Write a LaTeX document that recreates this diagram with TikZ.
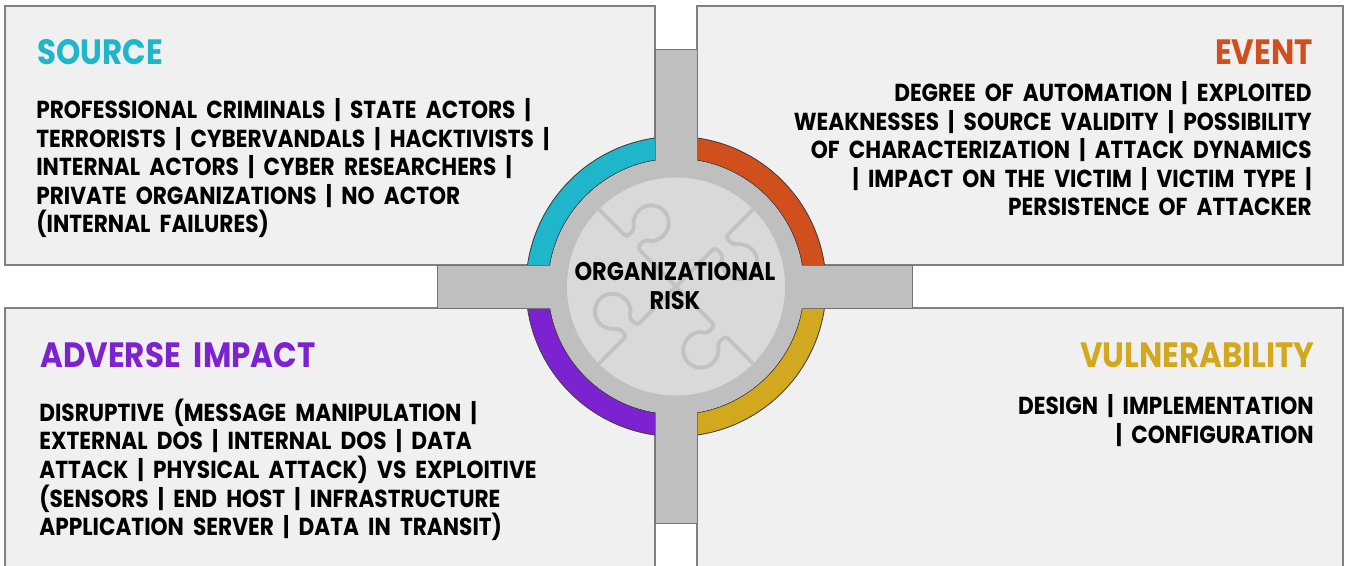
\documentclass[tikz,border=0pt]{standalone}
\usepackage{fontspec}
\usepackage{xcolor}
\usepackage{tikz}
\usetikzlibrary{positioning}
\newfontfamily\gothic[FakeStretch=0.88,WordSpace=2]{Poppins}
\definecolor{srccol}{HTML}{1FB5CA}
\definecolor{evtcol}{HTML}{D14F1C}
\definecolor{impcol}{HTML}{7D22D1}
\definecolor{vulcol}{HTML}{D2A81E}
\definecolor{boxbg}{HTML}{F0F0F0}
\definecolor{barcol}{HTML}{BFBFBF}
\definecolor{diskcol}{HTML}{D9D9D9}
\definecolor{piececol}{HTML}{C2C2C2}
\tikzstyle{qbox}=[rectangle,draw=black!50,line width=0.6pt,fill=boxbg,inner sep=0pt]
\tikzstyle{head}=[inner sep=0pt,font=\gothic\bfseries\fontsize{20}{24}\selectfont]
\tikzstyle{body}=[inner sep=0pt,font=\gothic\bfseries\fontsize{14}{16.3}\selectfont]
\tikzstyle{bar}=[draw=black!55,line width=0.5pt,fill=barcol]
\tikzstyle{ring}=[draw=black!75,line width=0.5pt]

\begin{document}
\begin{tikzpicture}
\path[use as bounding box,clip] (0,0) rectangle (26.96,-11.32);
\fill[white] (0,0) rectangle (26.96,-11.32);

%quarter boxes
\node[qbox,minimum width=13cm,minimum height=5.18cm] (src) at (6.6,-2.71) {};
\node[qbox,minimum width=12.92cm,minimum height=5.18cm] (evt) at (20.4,-2.71) {};
\node[qbox,minimum width=13cm,minimum height=5.44cm] (imp) at (6.6,-8.88) {};
\node[qbox,minimum width=12.92cm,minimum height=5.44cm] (vul) at (20.4,-8.88) {};

%headings
\node[head,text=srccol,anchor=west] (srchead) at (0.74,-1.04) {SOURCE};
\node[head,text=evtcol,anchor=east] (evthead) at (26.26,-1.04) {EVENT};
\node[head,text=impcol,anchor=west] (imphead) at (0.8,-7.1) {ADVERSE IMPACT};
\node[head,text=vulcol,anchor=east] (vulhead) at (26.3,-7.1) {VULNERABILITY};

%lists
\node[body,align=left,anchor=north west] (srctext) at (0.72,-1.96) {PROFESSIONAL CRIMINALS | STATE ACTORS |\\
TERRORISTS | CYBERVANDALS | HACKTIVISTS |\\
INTERNAL ACTORS | CYBER RESEARCHERS |\\
PRIVATE ORGANIZATIONS | NO ACTOR\\
(INTERNAL FAILURES)};
\node[body,align=right,anchor=north east] (evttext) at (26.24,-1.62) {DEGREE OF AUTOMATION | EXPLOITED\\
WEAKNESSES | SOURCE VALIDITY | POSSIBILITY\\
OF CHARACTERIZATION | ATTACK DYNAMICS\\
| IMPACT ON THE VICTIM | VICTIM TYPE |\\
PERSISTENCE OF ATTACKER};
\node[body,align=left,anchor=north west] (imptext) at (0.78,-7.97) {DISRUPTIVE (MESSAGE MANIPULATION |\\
EXTERNAL DOS | INTERNAL DOS | DATA\\
ATTACK | PHYSICAL ATTACK) VS EXPLOITIVE\\
(SENSORS | END HOST | INFRASTRUCTURE\\
APPLICATION SERVER | DATA IN TRANSIT)};
\node[body,align=right,anchor=north east] (vultext) at (26.28,-7.88) {DESIGN | IMPLEMENTATION\\
| CONFIGURATION};

\begin{scope}[shift={(13.52,-5.73)}]
%coloured ring
\foreach \a/\c in {90/srccol,0/evtcol,180/impcol,270/vulcol} {
\draw[ring,fill=\c] (\a:3) arc[start angle=\a,end angle=\a+90,radius=3] -- (\a+90:2.56) arc[start angle=\a+90,end angle=\a,radius=2.56] -- cycle;
}
%cross
\draw[bar] (-0.42,4.75) rectangle (0.42,-4.73);
\draw[bar] (-4.78,0.43) rectangle (4.72,-0.43);
\fill[barcol] (0,0) circle[radius=2.55];
%puzzle
\fill[diskcol] (0,0) circle[radius=2.18];
\foreach \a in {45,135,225,315} {
\draw[piececol,line width=2.2pt,rotate=\a,rounded corners=2pt] (0,0) -- (1.1,0) -- (1.1,-0.234) arc[start angle=115.4,end angle=424.6,radius=0.35] -- (1.4,0) -- (2.18,0);
}
\end{scope}
\node[inner sep=0pt,align=center,font=\gothic\bfseries\fontsize{14.5}{16.5}\selectfont] (risk) at (13.5,-5.72) {ORGANIZATIONAL\\RISK};
\end{tikzpicture}
\end{document}
